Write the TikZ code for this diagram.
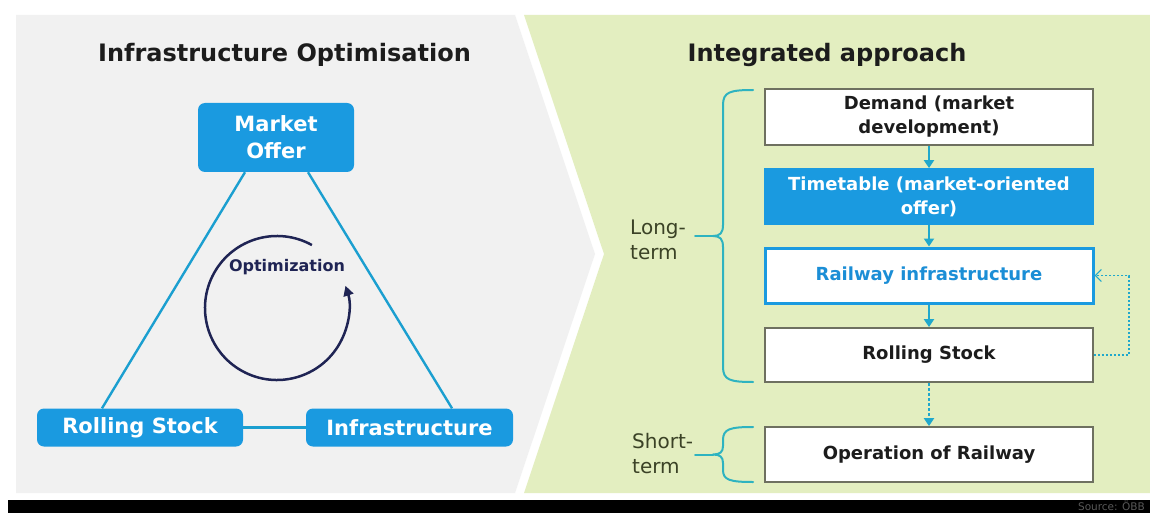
\documentclass[tikz,border=0pt]{standalone}
\usepackage{fontspec}
\setmainfont{DejaVu Sans}
\usetikzlibrary{arrows.meta,calc}

\definecolor{panelgray}{HTML}{F1F1F1}
\definecolor{panelgreen}{HTML}{E3EEC0}
\definecolor{boxblue}{HTML}{1A9AE0}
\definecolor{linecyan}{HTML}{1B9FD0}
\definecolor{arrowcyan}{HTML}{20A8CC}
\definecolor{bracecol}{HTML}{2EB3C0}
\definecolor{railblue}{HTML}{1B8ED6}
\definecolor{boxedge}{HTML}{6E7060}
\definecolor{textdark}{HTML}{1C1C1C}
\definecolor{navy}{HTML}{1F2454}
\definecolor{termtext}{HTML}{3B4226}

\tikzset{
  paneltitle/.style={font=\bfseries\fontsize{24}{28}\selectfont, text=textdark, inner sep=0},
  bluebox/.style={fill=boxblue, rounded corners=7pt, text=white, inner sep=0,
    font=\bfseries\fontsize{21}{27}\selectfont, align=center},
  triline/.style={draw=linecyan, line width=2.4pt},
  flowbox/.style={draw=boxedge, line width=1.8pt, fill=white, minimum width=328,
    inner sep=0, font=\bfseries\fontsize{18}{24}\selectfont, text=textdark, align=center},
  flowarrow/.style={draw=arrowcyan, line width=2pt, -{Triangle[length=8pt,width=10pt]}},
  feedback/.style={draw=arrowcyan, line width=1.2pt, dash pattern=on 2.5pt off 1.5pt,
    -{Straight Barb[length=6pt,width=12pt]}},
  brace/.style={draw=bracecol, line width=2pt, line cap=round, line join=round},
  termlbl/.style={font=\fontsize{20}{25}\selectfont, text=termtext, align=left, inner sep=0}
}

\begin{document}
\begin{tikzpicture}[x=1pt,y=-1pt]
\useasboundingbox (0,0) rectangle (1150,513);
\fill[white] (0,0) rectangle (1150,513);

% background panels: grey chevron on the left, green panel on the right
\fill[panelgray] (16,15) -- (515,15) -- (595,254) -- (515,493) -- (16,493) -- cycle;
\fill[panelgreen] (524,15) -- (1150,15) -- (1150,493) -- (524,493) -- (604,254) -- cycle;
\fill[black] (8,500) rectangle (1150,513);
\node[anchor=base east, inner sep=0, text=black!65, font=\fontsize{10.5}{12}\selectfont] (src) at (1145,510) {Source: ÖBB};

% titles
\node[paneltitle, anchor=base] (lefttitle) at (284.5,62) {Infrastructure Optimisation};
\node[paneltitle, anchor=base] (righttitle) at (827,62) {Integrated approach};

% ---- optimisation triangle ----
\node[bluebox, minimum width=156, minimum height=69] (market) at (276,137.5) {Market\\Offer};
\node[bluebox, minimum width=206, minimum height=38] (rolling) at (140,427.5) {Rolling Stock};
\node[bluebox, minimum width=207, minimum height=38] (infra) at (409.5,427.5) {Infrastructure};

\draw[triline] ($(market.south)+(-31,0)$) -- ($(rolling.north)+(-38,0)$);
\draw[triline] ($(market.south)+(32,0)$) -- ($(infra.north)+(42.5,0)$);
\draw[triline] (rolling.east) -- (infra.west);

% optimisation cycle
\coordinate (oc) at (277,308);
\draw[navy, line width=2.5pt, -{Triangle[length=10pt,width=10pt]}]
  ($(oc)+(-61:72)$) arc[start angle=-61, end angle=-378, radius=72];
\node[font=\bfseries\fontsize{16}{19}\selectfont, text=navy, inner sep=0] (opt) at (287,267) {Optimization};

% ---- integrated approach flow ----
\node[flowbox, minimum height=56] (demand) at (929,117) {Demand (market\\development)};
\node[flowbox, fill=boxblue, draw=boxblue, text=white, minimum height=55] (timetable) at (929,196.5) {Timetable (market-oriented\\offer)};
\node[flowbox, draw=boxblue, line width=3pt, text=railblue, minimum height=55] (railway) at (929,275.5) {Railway infrastructure};
\node[flowbox, minimum height=54] (rollstock) at (929,355) {Rolling Stock};
\node[flowbox, minimum height=55] (operation) at (929,454.5) {Operation of Railway};

\draw[flowarrow] (demand.south) -- (timetable.north);
\draw[flowarrow] (timetable.south) -- (railway.north);
\draw[flowarrow] (railway.south) -- (rollstock.north);
\draw[flowarrow, dash pattern=on 3pt off 2pt] (rollstock.south) -- (operation.north);
\draw[feedback] (rollstock.east) -- ++(35,0) |- (railway.east);

% horizon braces and labels
\node[termlbl, anchor=west] (longlbl) at (630,240) {Long-\\term};
\node[termlbl, anchor=west] (shortlbl) at (632,453.5) {Short-\\term};

\coordinate (ltip) at (713,236);
\coordinate (stip) at (713,454.5);
\draw[brace] (753,90) .. controls (730,90) and (723,92) .. (723,105) -- (723,225)
  .. controls (723,233) and (720,236) .. (ltip)
  .. controls (720,236) and (723,239) .. (723,247) -- (723,367)
  .. controls (723,380) and (730,382) .. (753,382);
\draw[brace] (ltip) -- ++(-18,0);
\draw[brace] (753,427) .. controls (730,427) and (723,429) .. (723,440) -- (723,446)
  .. controls (723,452) and (720,454.5) .. (stip)
  .. controls (720,454.5) and (723,457) .. (723,463) -- (723,470)
  .. controls (723,480) and (730,482) .. (753,482);
\draw[brace] (stip) -- ++(-18,0);
\end{tikzpicture}
\end{document}
